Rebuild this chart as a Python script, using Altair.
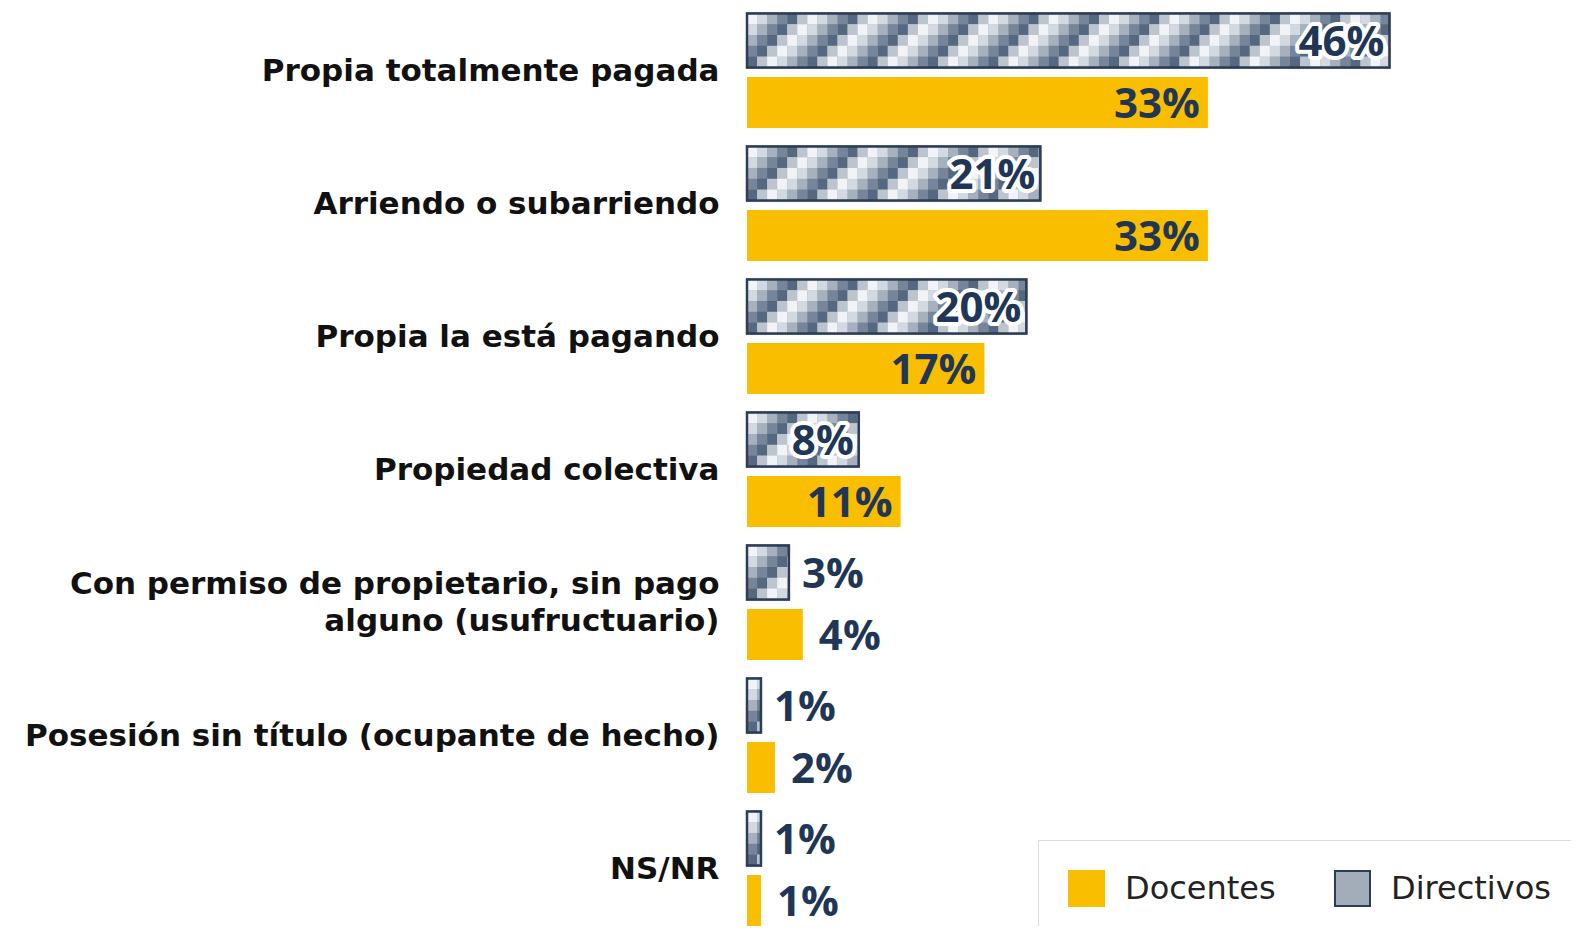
import math
import altair as alt
import pandas as pd

categories = [
    "Propia totalmente pagada",
    "Arriendo o subarriendo",
    "Propia la está pagando",
    "Propiedad colectiva",
    "Con permiso de propietario, sin pago\nalguno (usufructuario)",
    "Posesión sin título (ocupante de hecho)",
    "NS/NR",
]
docentes = [33, 33, 17, 11, 4, 2, 1]
directivos = [46, 21, 20, 8, 3, 1, 1]
series = ["Docentes", "Directivos"]

FONT = "Open Sans"
CAT_FONT = "DejaVu Sans"
NAVY = "#1f3656"
YELLOW = "#FABE00"
GRAY = "#a3adba"
OUTLINE = "#2c3e57"

rows = []
for c, d, v in zip(categories, docentes, directivos):
    rows.append({"cat": c, "series": "Docentes", "value": d, "label": f"{d}%"})
    rows.append({"cat": c, "series": "Directivos", "value": v, "label": f"{v}%"})
df = pd.DataFrame(rows)

# checker texture cells for the Directivos bars (derived from the data)
STEP = 0.72
NROWS = 5
palette = ["#f1f3f6", "#d3d9e0", "#a7b1bd", "#76859a", "#56687f", "#bcc4ce"]
cells = []
for c, v in zip(categories, directivos):
    n = math.ceil(v / STEP - 1e-9)
    for k in range(n):
        for r in range(NROWS):
            cells.append({
                "cat": c,
                "x0": k * STEP,
                "x1": min((k + 1) * STEP, v),
                "row": r,
                "hex": palette[(k + r) % len(palette)],
            })
cells = pd.DataFrame(cells)

D_H, D_OFF = 54, -31
C_H, C_OFF = 51, 31

xscale = alt.Scale(domain=[0, 59], nice=False, zero=True)
yscale = alt.Scale(domain=categories, range=[-3, 928], paddingInner=0, paddingOuter=0)

leg = alt.Legend(
    orient="none", legendX=291, legendY=832, direction="horizontal", title=None,
    symbolType="square", symbolSize=1225, symbolStrokeWidth=2, symbolOpacity=1,
    labelFontSize=32, labelFont=CAT_FONT, labelColor="#222222", labelOffset=20,
    columnPadding=55, padding=30, strokeColor="#dddddd", fillColor="white",
)
fill_enc = alt.Fill("series:N", scale=alt.Scale(domain=series, range=[YELLOW, GRAY]), legend=leg)
stroke_enc = alt.Stroke("series:N", scale=alt.Scale(domain=series, range=[YELLOW, OUTLINE]), legend=leg)

y_enc = alt.Y(
    "cat:N", scale=yscale, sort=categories, title=None,
    axis=alt.Axis(domain=False, ticks=False, tickSize=0, labelPadding=28,
                  labelFontSize=31, labelFont=CAT_FONT, labelFontWeight="bold",
                  labelColor="#111111", labelLimit=1000, labelLineHeight=37,
                  labelOffset={"condition": {"test": "indexof(datum.label, '\\n') >= 0", "value": -19},
                               "value": 0},
                  labelExpr="split(datum.label, '\\n')"),
)
x_enc = alt.X("value:Q", scale=xscale, axis=None)
y_plain = alt.Y("cat:N", scale=yscale, sort=categories)

base = alt.Chart(df)

doc_bar = base.transform_filter("datum.series == 'Docentes'").mark_bar(
    height=C_H, yOffset=C_OFF, strokeWidth=0
).encode(x=x_enc, y=y_enc, fill=fill_enc, stroke=stroke_enc)

dir_bar = base.transform_filter("datum.series == 'Directivos'").mark_bar(
    height=D_H, yOffset=D_OFF, strokeWidth=2
).encode(x=x_enc, y=y_enc, fill=fill_enc, stroke=stroke_enc)

row_h = D_H / NROWS
cell_layers = []
for r in range(NROWS):
    off = D_OFF - D_H / 2 + row_h * (r + 0.5)
    cell_layers.append(
        alt.Chart(cells).transform_filter(f"datum.row == {r}").mark_bar(
            height=row_h + 0.3, yOffset=off
        ).encode(
            x=alt.X("x0:Q", scale=xscale, axis=None),
            x2="x1:Q",
            y=y_plain,
            color=alt.Color("hex:N", scale=None, legend=None),
        )
    )

outline = base.transform_filter("datum.series == 'Directivos'").mark_bar(
    height=D_H, yOffset=D_OFF, fillOpacity=0, stroke=OUTLINE, strokeWidth=2.5
).encode(x=x_enc, y=y_plain)

TH = 8
txt_kw = dict(font=FONT, fontSize=42, fontWeight="bold", baseline="middle")

dir_in_halo = base.transform_filter(f"datum.series == 'Directivos' && datum.value >= {TH}").mark_text(
    align="right", dx=-5, yOffset=D_OFF + 2, stroke="white", strokeWidth=8, strokeJoin="round",
    fill="white", **txt_kw
).encode(x=x_enc, y=y_plain, text="label:N")
dir_in = base.transform_filter(f"datum.series == 'Directivos' && datum.value >= {TH}").mark_text(
    align="right", dx=-5, yOffset=D_OFF + 2, color=NAVY, **txt_kw
).encode(x=x_enc, y=y_plain, text="label:N")
dir_out = base.transform_filter(f"datum.series == 'Directivos' && datum.value < {TH}").mark_text(
    align="left", dx=13, yOffset=D_OFF + 2, color=NAVY, **txt_kw
).encode(x=x_enc, y=y_plain, text="label:N")
doc_in = base.transform_filter(f"datum.series == 'Docentes' && datum.value >= {TH}").mark_text(
    align="right", dx=-8, yOffset=C_OFF + 2, color=NAVY, **txt_kw
).encode(x=x_enc, y=y_plain, text="label:N")
doc_out = base.transform_filter(f"datum.series == 'Docentes' && datum.value < {TH}").mark_text(
    align="left", dx=16, yOffset=C_OFF + 2, color=NAVY, **txt_kw
).encode(x=x_enc, y=y_plain, text="label:N")

chart = alt.layer(
    doc_bar, dir_bar, *cell_layers, outline, dir_in_halo, dir_in, dir_out, doc_in, doc_out
).properties(
    width=824, height=918,
    padding={"left": 739, "top": 0, "right": 0, "bottom": 0},
    autosize=alt.AutoSizeParams(type="none"),
).configure(background="white", view=alt.ViewConfig(stroke=None))

chart.save("out.html", embed_options={"renderer": "svg", "actions": False})
